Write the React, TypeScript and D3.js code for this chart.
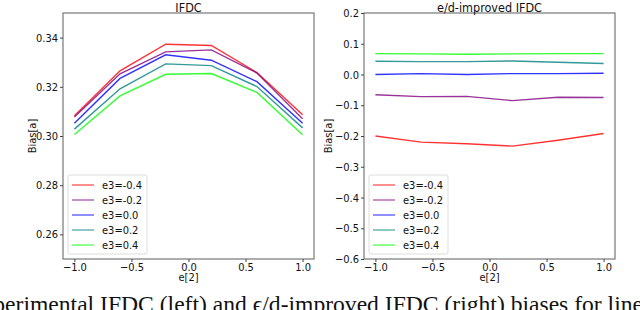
import React, { useEffect, useRef } from 'react';
import * as d3 from 'd3';

const e2 = [-1.0, -0.6, -0.2, 0.2, 0.6, 1.0];
const seriesNames = ['e3=-0.4', 'e3=-0.2', 'e3=0.0', 'e3=0.2', 'e3=0.4'];
const seriesColors = ['#ff0000', '#800080', '#0000ff', '#008080', '#00ff00'];

// left panel: experimental IFDC
const ifdcRed = [0.3082, 0.3265, 0.3373, 0.3368, 0.3258, 0.3086];
const ifdcPurple = [0.3077, 0.3253, 0.3342, 0.335, 0.3256, 0.307];
const ifdcBlue = [0.3052, 0.3234, 0.333, 0.3308, 0.3221, 0.3052];
const ifdcTeal = [0.3028, 0.3192, 0.3293, 0.3286, 0.3201, 0.3033];
const ifdcGreen = [0.3006, 0.3163, 0.3251, 0.3254, 0.3177, 0.3005];

// right panel: e/d-improved IFDC
const impRed = [-0.2, -0.22, -0.225, -0.233, -0.214, -0.192];
const impPurple = [-0.066, -0.072, -0.071, -0.085, -0.074, -0.075];
const impBlue = [0.0, 0.003, 0.0, 0.003, 0.003, 0.004];
const impTeal = [0.043, 0.042, 0.042, 0.044, 0.04, 0.036];
const impGreen = [0.068, 0.067, 0.066, 0.067, 0.068, 0.068];

const xTicks = [-1.0, -0.5, 0.0, 0.5, 1.0];
const leftTicks = [0.26, 0.28, 0.3, 0.32, 0.34];
const rightTicks = [-0.6, -0.5, -0.4, -0.3, -0.2, -0.1, 0.0, 0.1, 0.2];

const FONT = '"DejaVu Sans Condensed", "DejaVu Sans", sans-serif';

const App = () => {
  const svgRef = useRef<SVGSVGElement>(null);

  useEffect(() => {
    const svg = d3.select(svgRef.current);
    svg.selectAll('*').remove();

    const top = 13;
    const bottom = 259;

    const panels = [
      {
        title: 'IFDC', left: 63, right: 314, domain: [0.25, 0.35], ticks: leftTicks,
        fmt: d3.format('.2f'), series: [ifdcRed, ifdcPurple, ifdcBlue, ifdcTeal, ifdcGreen],
        labelX: 32, legendX: 68,
      },
      {
        title: 'e/d-improved IFDC', left: 364, right: 615, domain: [-0.6, 0.2], ticks: rightTicks,
        fmt: (d: number) => d3.format('.1f')(d).replace('-', '\u2212'),
        series: [impRed, impPurple, impBlue, impTeal, impGreen],
        labelX: 328, legendX: 369,
      },
    ];

    panels.forEach(p => {
      const x = d3.scaleLinear().domain([-1.1, 1.1]).range([p.left, p.right]);
      const y = d3.scaleLinear().domain(p.domain).range([bottom, top]);
      const g = svg.append('g');

      // series lines
      const line = d3.line<number>().x((_, i) => x(e2[i])).y(d => y(d));
      p.series.forEach((s, i) => {
        g.append('path')
          .datum(s)
          .attr('d', line)
          .attr('fill', 'none')
          .attr('stroke', seriesColors[i])
          .attr('stroke-opacity', 0.8)
          .attr('stroke-width', 1.4);
      });

      // frame
      g.append('rect')
        .attr('x', p.left).attr('y', top)
        .attr('width', p.right - p.left).attr('height', bottom - top)
        .attr('fill', 'none').attr('stroke', '#777').attr('stroke-width', 1.2);

      // x axis
      const xAxis = d3.axisBottom(x)
        .tickValues(xTicks)
        .tickFormat(d => d3.format('.1f')(d as number).replace('-', '\u2212'))
        .tickSize(3).tickPadding(1.5).tickSizeOuter(0);
      const xg = g.append('g').attr('transform', `translate(0,${bottom})`).call(xAxis);
      xg.select('.domain').remove();
      xg.selectAll('line').attr('stroke', '#444');
      xg.selectAll('text').attr('font-family', FONT).attr('font-size', 11).attr('fill', '#111');

      // y axis
      const yAxis = d3.axisLeft(y)
        .tickValues(p.ticks)
        .tickFormat(d => p.fmt(d as number))
        .tickSize(3).tickPadding(2).tickSizeOuter(0);
      const yg = g.append('g').attr('transform', `translate(${p.left},0)`).call(yAxis);
      yg.select('.domain').remove();
      yg.selectAll('line').attr('stroke', '#444');
      yg.selectAll('text').attr('font-family', FONT).attr('font-size', 11).attr('fill', '#111');

      // title and labels
      g.append('text')
        .attr('x', (p.left + p.right) / 2).attr('y', 11.5)
        .attr('text-anchor', 'middle')
        .attr('font-family', FONT).attr('font-size', 12.5).attr('fill', '#111')
        .text(p.title);
      g.append('text')
        .attr('x', (p.left + p.right) / 2).attr('y', 281)
        .attr('text-anchor', 'middle')
        .attr('font-family', FONT).attr('font-size', 11).attr('fill', '#111')
        .text('e[2]');
      g.append('text')
        .attr('transform', `translate(${p.labelX},${(top + bottom) / 2}) rotate(-90)`)
        .attr('text-anchor', 'middle').attr('dy', '0.35em')
        .attr('font-family', FONT).attr('font-size', 11).attr('fill', '#111')
        .text('Bias[a]');

      // legend
      const lg = g.append('g').attr('transform', `translate(${p.legendX},175)`);
      lg.append('rect')
        .attr('width', 79).attr('height', 79).attr('rx', 2)
        .attr('fill', 'white').attr('fill-opacity', 0.8)
        .attr('stroke', '#ddd');
      seriesNames.forEach((name, i) => {
        const yy = 10 + i * 15;
        lg.append('line')
          .attr('x1', 4).attr('x2', 26).attr('y1', yy).attr('y2', yy)
          .attr('stroke', seriesColors[i]).attr('stroke-opacity', 0.55).attr('stroke-width', 1.6);
        lg.append('text')
          .attr('x', 34).attr('y', yy).attr('dy', '0.35em')
          .attr('font-family', FONT).attr('font-size', 11).attr('fill', '#111')
          .text(name);
      });
    });

    // caption of the figure, clipped by the bottom edge
    svg.append('text')
      .attr('x', 643).attr('y', 312)
      .attr('text-anchor', 'end')
      .attr('font-family', '"Liberation Serif", serif').attr('font-size', 23.6).attr('fill', '#111')
      .text('Experimental IFDC (left) and \u03F5/d-improved IFDC (right) biases for line');
  }, []);

  return (
    <svg ref={svgRef} width={640} height={310}
      style={{ position: 'absolute', left: 0, top: 0, background: 'white' }} />
  );
};

export default App;
